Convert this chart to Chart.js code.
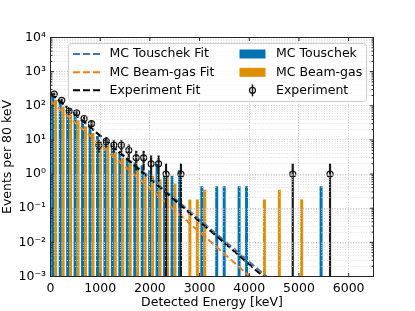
<!DOCTYPE html>
<html><head><meta charset="utf-8">
<script src="https://cdn.jsdelivr.net/npm/chart.js@4/dist/chart.umd.min.js"></script>
<style>html,body{margin:0;padding:0;background:#fff;overflow:hidden}canvas{display:block}</style>
</head><body>
<canvas id="c" width="415" height="311"></canvas>
<script>
// ---- data ----
const binCenters = [75,225,375,525,675,825,975,1125,1275,1425,1575,1725,1875,2025,2175,2325,2475,2625,2775,2925,3075,3225,3375,3525,3675,3825,3975,4125,4275,4425,4575,4725,4875,5025,5175,5325,5475,5625,5775,5925,6075,6225,6375];
const touschek = [200,130,75,55,35,24,13,10,6.5,4.5,3.0,2.2,1.8,1.3,2.0,0.9,0.9,1.3,null,null,0.44,null,0.44,0.44,null,0.44,0.44,null,null,null,null,null,null,null,null,null,0.44,null,null,null,null,null,null];
const beamGas = [150,95,55,38,25,16,9,7,4.5,3,2.2,1.5,1.1,0.9,0.7,0.9,0.53,null,0.18,0.18,0.35,null,null,null,null,null,null,null,0.18,null,0.35,null,null,0.18,null,null,null,null,null,null,null,null,null];
const experiment = [220,145,70,62,42,30,7,9,7,7,5,3,3,2,2,1,null,1,null,null,null,null,null,null,null,null,null,null,null,null,null,null,1,null,null,null,null,1,null,null,null,null,null];
const experimentErr = [14.8,12,8.4,7.9,6.5,5.5,2.6,3,2.6,2.6,2.2,1.7,1.7,1.4,1.4,1,null,1,null,null,null,null,null,null,null,null,null,null,null,null,null,null,1,null,null,null,null,1,null,null,null,null,null];
const fitTouschek = [{x:0,y:230},{x:4350,y:0.001}];
const fitBeamGas = [{x:0,y:140},{x:4014,y:0.001}];
const fitExperiment = [{x:0,y:235},{x:4282,y:0.001}];
const xTicks = [0,1000,2000,3000,4000,5000,6000];
const yMajorTicks = [1e-3,1e-2,1e-1,1,10,100,1000,10000];
const yTickLabels = ['10⁻³','10⁻²','10⁻¹','10⁰','10¹','10²','10³','10⁴'];
const yMinorFactors = [2,3,4,5,6,7,8,9];
const Y_MIN = 1e-3, Y_MAX = 1e4, X_MIN = 0, X_MAX = 6500;

// ---- build library data ----
const barPts = arr => binCenters.map((x,i)=>({x, y: arr[i]}));
const expPts = [], errPts = [];
binCenters.forEach((x,i)=>{
  if (experiment[i] == null) return;
  expPts.push({x, y: experiment[i]});
  errPts.push({x, y: [Math.max(experiment[i]-experimentErr[i], Y_MIN), experiment[i]+experimentErr[i]]});
});

const FONT = {family:'"DejaVu Sans", sans-serif', size:12.5};
const GRID_DASH = [1,1.65];

const frameTicks = {
  id:'frameTicks',
  afterDraw(chart){
    const {ctx, chartArea:a, scales:{x, y}} = chart;
    ctx.save();
    ctx.strokeStyle = '#262626'; ctx.lineWidth = 1;
    ctx.beginPath();
    x.ticks.forEach(t=>{
      const p = x.getPixelForValue(t.value);
      ctx.moveTo(p, a.bottom); ctx.lineTo(p, a.bottom-3.5);
      ctx.moveTo(p, a.top); ctx.lineTo(p, a.top+3.5);
    });
    y.ticks.forEach(t=>{
      const p = y.getPixelForValue(t.value);
      const l = t.major ? 3.5 : 2;
      ctx.moveTo(a.left, p); ctx.lineTo(a.left+l, p);
      ctx.moveTo(a.right, p); ctx.lineTo(a.right-l, p);
    });
    ctx.stroke();
    ctx.strokeRect(a.left, a.top, a.right-a.left, a.bottom-a.top);
    ctx.restore();
  }
};

const boxLegend = {
  id:'boxLegend',
  afterDraw(chart){
    const {ctx, chartArea:a} = chart;
    const ds = chart.data.datasets;
    const find = l => ds.find(d=>d.label===l);
    const cols = [['MC Touschek Fit','MC Beam-gas Fit','Experiment Fit'],['MC Touschek','MC Beam-gas','Experiment']];
    const L = a.left+18, T = a.top+6, W = 298, H = 58, r = 3;
    ctx.save();
    ctx.beginPath();
    ctx.moveTo(L+r,T); ctx.lineTo(L+W-r,T); ctx.arcTo(L+W,T,L+W,T+r,r);
    ctx.lineTo(L+W,T+H-r); ctx.arcTo(L+W,T+H,L+W-r,T+H,r);
    ctx.lineTo(L+r,T+H); ctx.arcTo(L,T+H,L,T+H-r,r);
    ctx.lineTo(L,T+r); ctx.arcTo(L,T,L+r,T,r); ctx.closePath();
    ctx.fillStyle='rgba(255,255,255,0.8)'; ctx.fill();
    ctx.strokeStyle='#cccccc'; ctx.lineWidth=1; ctx.stroke();
    const rows = [T+10.5, T+28.8, T+46.8];
    ctx.font = '12.5px "DejaVu Sans", sans-serif';
    ctx.textBaseline='middle'; ctx.textAlign='left';
    cols.forEach((col,ci)=>col.forEach((lab,ri)=>{
      const d = find(lab); const yy = rows[ri];
      const hx = ci===0 ? L+4.5 : L+171, hw = ci===0 ? 27 : 26;
      const tx = ci===0 ? L+41 : L+207.5;
      if (d.type==='line' && d.showLine!==false){
        ctx.save(); ctx.strokeStyle=d.borderColor; ctx.lineWidth=d.borderWidth;
        ctx.setLineDash(d.borderDash||[]);
        ctx.beginPath(); ctx.moveTo(hx,yy); ctx.lineTo(hx+hw,yy); ctx.stroke(); ctx.restore();
      } else if (d.type==='bar'){
        ctx.fillStyle=d.backgroundColor; ctx.fillRect(hx,yy-4.5,hw,9);
      } else {
        const cx = hx+hw/2;
        ctx.save(); ctx.strokeStyle='#1a1a1a'; ctx.lineWidth=1.5;
        ctx.beginPath(); ctx.moveTo(cx,yy-6); ctx.lineTo(cx,yy+6); ctx.stroke();
        ctx.lineWidth=d.pointBorderWidth; ctx.strokeStyle=d.pointBorderColor;
        ctx.beginPath(); ctx.arc(cx,yy,d.pointRadius,0,Math.PI*2); ctx.stroke(); ctx.restore();
      }
      ctx.fillStyle='#000'; ctx.fillText(lab, tx, yy);
    }));
    ctx.restore();
  }
};

new Chart(document.getElementById('c'), {
  type:'bar',
  data:{ datasets:[
    {type:'line', label:'Experiment', data:expPts, showLine:false, pointStyle:'circle', pointRadius:3, pointBorderWidth:1.2, pointBorderColor:'#111111', pointBackgroundColor:'rgba(0,0,0,0)', order:0},
    {type:'bar', label:'Experiment errors', data:errPts, backgroundColor:'#1a1a1a', grouped:false, barThickness:1.5, order:1},
    {type:'line', label:'Experiment Fit', data:fitExperiment, borderColor:'#000000', borderDash:[7,3], borderWidth:2, pointRadius:0, order:2},
    {type:'line', label:'MC Touschek Fit', data:fitTouschek, borderColor:'#4a74ad', borderDash:[7,3], borderWidth:2, pointRadius:0, order:3},
    {type:'line', label:'MC Beam-gas Fit', data:fitBeamGas, borderColor:'#ec7f16', borderDash:[7,3], borderWidth:2, pointRadius:0, order:4},
    {type:'bar', label:'MC Touschek', data:barPts(touschek), backgroundColor:'#0173b2', categoryPercentage:0.8, barPercentage:1, order:5},
    {type:'bar', label:'MC Beam-gas', data:barPts(beamGas), backgroundColor:'#de8f05', categoryPercentage:0.8, barPercentage:1, order:6}
  ]},
  options:{
    responsive:false, animation:false, devicePixelRatio:1, events:[],
    layout:{padding:{top:37.5, right:41.5, bottom:0, left:0}},
    plugins:{legend:{display:false}, tooltip:{enabled:false}},
    scales:{
      x:{
        type:'linear', min:X_MIN, max:X_MAX, offset:false,
        afterBuildTicks:s=>{ s.ticks = xTicks.map(v=>({value:v, major:true})); },
        afterFit:s=>{ s.height = 34.5; },
        ticks:{autoSkip:false, maxRotation:0, padding:5, color:'#000', font:FONT, callback:v=>String(v)},
        grid:{offset:false, drawTicks:false, color:'#b0b0b0', lineWidth:0.8, z:1},
        border:{display:false, dash:GRID_DASH},
        title:{display:true, text:'Detected Energy [keV]', color:'#000', font:FONT, padding:{top:0, bottom:1}}
      },
      y:{
        type:'logarithmic', min:Y_MIN, max:Y_MAX,
        afterBuildTicks:s=>{
          const t = [];
          yMajorTicks.forEach((m,i)=>{
            t.push({value:m, major:true});
            if (i < yMajorTicks.length-1) yMinorFactors.forEach(f=>t.push({value:m*f, major:false}));
          });
          s.ticks = t;
        },
        afterFit:s=>{ s.width = 50.5; },
        ticks:{autoSkip:false, padding:4.5, color:'#000', font:FONT,
          callback:(v,i,t)=>{ const k = yMajorTicks.indexOf(t[i].value); return k>=0 ? yTickLabels[k] : ''; }},
        grid:{drawTicks:false, color:c=>(c.tick && c.tick.major) ? '#b0b0b0' : '#d6d6d6', lineWidth:0.8, z:1},
        border:{display:false, dash:GRID_DASH},
        title:{display:true, text:'Events per 80 keV', color:'#000', font:FONT, padding:{top:0, bottom:0}}
      }
    }
  },
  plugins:[frameTicks, boxLegend]
});
</script>
</body></html>
